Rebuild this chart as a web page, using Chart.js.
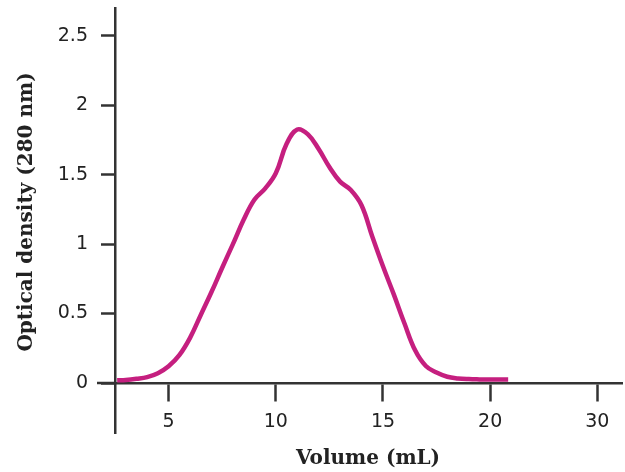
<!DOCTYPE html>
<html>
<head>
<meta charset="utf-8">
<script src="https://cdn.jsdelivr.net/npm/chart.js@4"></script>
<style>
  html, body { margin: 0; padding: 0; background: #fff; }
  #wrap { width: 625px; height: 472px; }
</style>
</head>
<body>
<div id="wrap"><canvas id="myChart"></canvas></div>
<script>
// elution profile
var volume = [2.6, 3.0, 3.5, 4.0, 4.5, 5.0, 5.5, 6.0, 6.5, 7.0, 7.5, 8.0, 8.5, 9.0, 9.5, 10.0, 10.5, 11.0, 11.5, 12.0, 12.5, 13.0, 13.5, 14.0, 14.5, 15.0, 15.5, 16.0, 16.5, 17.0, 17.5, 18.0, 18.5, 19.0, 19.5, 20.0, 20.84];
var density = [0.02, 0.022, 0.03, 0.042, 0.07, 0.12, 0.2, 0.325, 0.49, 0.655, 0.83, 1.0, 1.175, 1.32, 1.40, 1.51, 1.72, 1.825, 1.79, 1.685, 1.555, 1.45, 1.39, 1.28, 1.055, 0.84, 0.64, 0.43, 0.235, 0.122, 0.075, 0.045, 0.033, 0.028, 0.026, 0.025, 0.025];

var xTicks = [5, 10, 15, 20, 25];
var xLabels = ['5', '10', '15', '20', '30'];
var yTicks = [0, 0.5, 1, 1.5, 2, 2.5];
var yLabels = ['0', '0.5', '1', '1.5', '2', '2.5'];

var xTitle = 'Volume (mL)';
var yTitle = 'Optical density (280 nm)';

var axisColor = '#333';
var tickFont = {family: 'DejaVu Sans', size: 19};

var points = volume.map(function (v, i) { return {x: v, y: density[i]}; });

// x axis line runs a bit left of the y axis
var xAxisStub = {
  id: 'xAxisStub',
  afterDraw: function (chart) {
    var ctx = chart.ctx;
    var x = chart.scales.x, y = chart.scales.y;
    var py = y.getPixelForValue(0);
    ctx.save();
    ctx.strokeStyle = axisColor;
    ctx.lineWidth = 2.5;
    ctx.beginPath();
    ctx.moveTo(x.getPixelForValue(1.66), py);
    ctx.lineTo(chart.chartArea.left, py);
    ctx.stroke();
    ctx.restore();
  }
};

var titles = {
  id: 'titles',
  afterDraw: function (chart) {
    var ctx = chart.ctx;
    ctx.save();
    ctx.fillStyle = '#222';
    ctx.font = 'bold 20px "DejaVu Serif"';
    ctx.textAlign = 'center';
    ctx.textBaseline = 'middle';
    ctx.fillText(xTitle, 368, 459);
    ctx.translate(27, 212);
    ctx.rotate(-Math.PI / 2);
    ctx.fillText(yTitle, 0, 0);
    ctx.restore();
  }
};

var ctx = document.getElementById('myChart').getContext('2d');
var chart = new Chart(ctx, {
  type: 'line',
  data: {
    datasets: [{
      data: points,
      borderColor: '#c51f7f',
      borderWidth: 4.5,
      pointRadius: 0,
      fill: false,
      tension: 0.4
    }]
  },
  options: {
    responsive: true,
    maintainAspectRatio: false,
    animation: false,
    layout: {padding: {left: 0, right: 3, top: 8, bottom: 39}},
    plugins: {legend: {display: false}, tooltip: {enabled: false}},
    scales: {
      x: {
        type: 'linear',
        position: {y: 0},
        min: 2.5,
        max: 26.15,
        afterBuildTicks: function (s) { s.ticks = xTicks.map(function (v) { return {value: v}; }); },
        afterFit: function (s) { s.paddingLeft = 0; s.paddingRight = 0; s.paddingTop = 0; s.paddingBottom = 0; },
        ticks: {
          font: tickFont,
          color: '#222',
          padding: 11,
          maxRotation: 0,
          callback: function (v) { return xLabels[xTicks.indexOf(v)]; }
        },
        grid: {drawOnChartArea: false, tickLength: 17, tickColor: axisColor, tickWidth: 2.5},
        border: {color: axisColor, width: 2.5}
      },
      y: {
        type: 'linear',
        position: 'left',
        min: -0.36,
        max: 2.70,
        afterBuildTicks: function (s) { s.ticks = yTicks.map(function (v) { return {value: v}; }); },
        afterFit: function (s) { s.width = 115; s.paddingTop = 0; s.paddingBottom = 0; },
        ticks: {
          font: tickFont,
          color: '#222',
          padding: 13,
          callback: function (v) { return yLabels[yTicks.indexOf(v)]; }
        },
        grid: {drawOnChartArea: false, tickLength: 14, tickColor: axisColor, tickWidth: 2.5},
        border: {color: axisColor, width: 2.5}
      }
    }
  },
  plugins: [xAxisStub, titles]
});
</script>
</body>
</html>
